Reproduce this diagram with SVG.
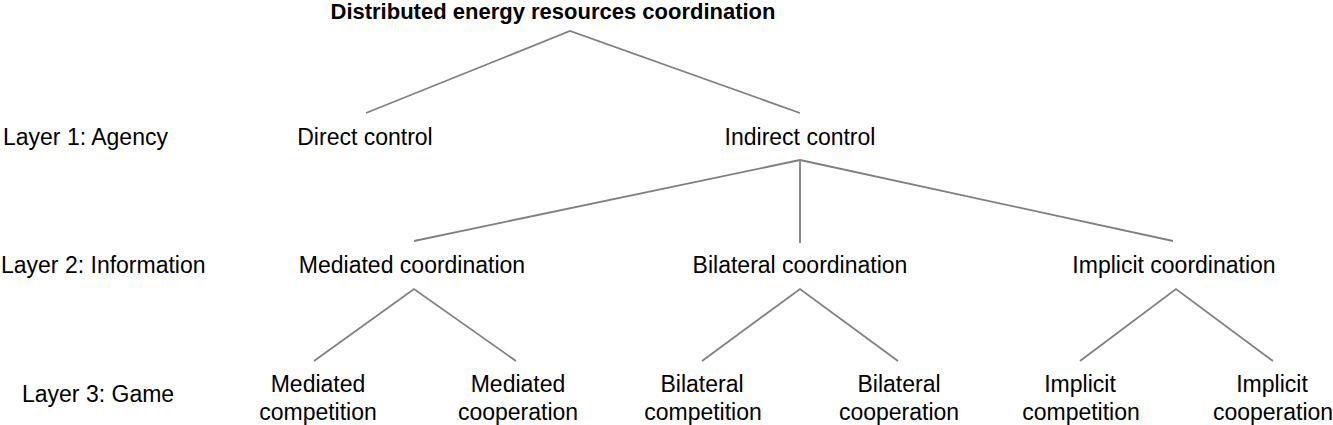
<svg xmlns="http://www.w3.org/2000/svg" width="1333" height="425" viewBox="0 0 1333 425">
<style>
text{font-family:"Liberation Sans",Arial,sans-serif;font-size:23px;fill:#000}
.title{font-weight:bold;font-size:22px}
.c{text-anchor:middle}
.edge{stroke:#808080;stroke-width:1.8;fill:none}
</style>
<rect width="1333" height="425" fill="#fff"/>
<g id="layer-labels">
<text x="3" y="145">Layer 1: Agency</text>
<text x="1" y="273">Layer 2: Information</text>
<text x="22" y="402">Layer 3: Game</text>
</g>
<g id="connectors">
<polyline class="edge" points="366,113 570,31 800,113"/>
<line class="edge" x1="800" y1="160" x2="414" y2="241"/>
<line class="edge" x1="800" y1="160" x2="800" y2="243"/>
<line class="edge" x1="800" y1="160" x2="1173" y2="241"/>
<polyline class="edge" points="314,361 414,289 516,361"/>
<polyline class="edge" points="702,361 800,289 898,361"/>
<polyline class="edge" points="1080,361 1176,289 1273,361"/>
</g>
<g id="root"><text class="title c" x="553" y="19">Distributed energy resources coordination</text></g>
<g id="direct"><text class="c" x="365" y="145">Direct control</text></g>
<g id="indirect"><text class="c" x="800" y="145">Indirect control</text></g>
<g id="mediated"><text class="c" x="412" y="273">Mediated coordination</text></g>
<g id="bilateral"><text class="c" x="800" y="273">Bilateral coordination</text></g>
<g id="implicit"><text class="c" x="1174" y="273">Implicit coordination</text></g>
<g id="med-comp"><text class="c" x="318" y="392">Mediated</text><text class="c" x="318" y="420">competition</text></g>
<g id="med-coop"><text class="c" x="518" y="392">Mediated</text><text class="c" x="518" y="420">cooperation</text></g>
<g id="bil-comp"><text class="c" x="702" y="392">Bilateral</text><text class="c" x="703" y="420">competition</text></g>
<g id="bil-coop"><text class="c" x="899" y="392">Bilateral</text><text class="c" x="899" y="420">cooperation</text></g>
<g id="imp-comp"><text class="c" x="1080" y="392">Implicit</text><text class="c" x="1081" y="420">competition</text></g>
<g id="imp-coop"><text class="c" x="1272" y="392">Implicit</text><text class="c" x="1273" y="420">cooperation</text></g>
</svg>
